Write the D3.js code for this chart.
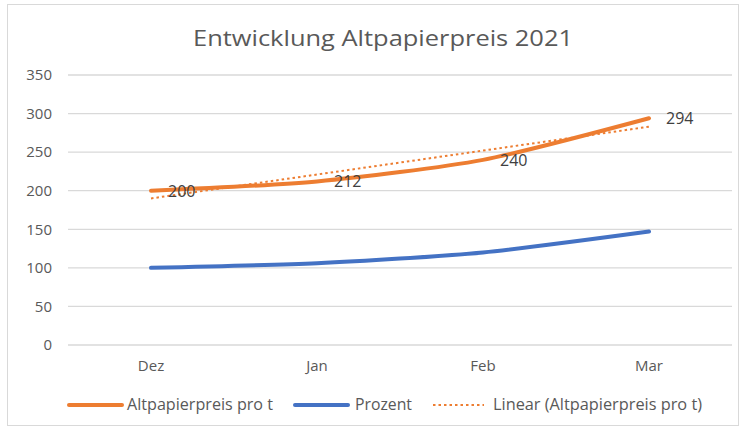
<!DOCTYPE html>
<html>
<head>
<meta charset="utf-8">
<script src="https://cdn.jsdelivr.net/npm/d3@7"></script>
<style>
  body { margin: 0; background: #fff; }
  text { font-family: "Open Sans", "Noto Sans", sans-serif; fill: #595959; }
</style>
</head>
<body>
<div id="chart"></div>
<script>
// data
var months = ["Dez", "Jan", "Feb", "Mar"];
var preis = [200, 212, 240, 294];
var prozent = [100, 106, 120, 147];
var trend = [190, 221, 252, 283];
var yTicks = [0, 50, 100, 150, 200, 250, 300, 350];

var W = 742, H = 428;
var margin = {top: 75, left: 68},
    width = 732 - margin.left,
    height = 345 - margin.top;

var svg = d3.select("#chart")
  .append("svg")
    .attr("width", W)
    .attr("height", H);

// chart frame
svg.append("rect")
  .attr("x", 7.5).attr("y", 4.5)
  .attr("width", 731).attr("height", 421)
  .attr("fill", "#fff")
  .attr("stroke", "#D9D9D9");

svg.append("text")
  .attr("x", 193).attr("y", 46)
  .attr("textLength", 380)
  .attr("lengthAdjust", "spacingAndGlyphs")
  .style("font-size", "22px")
  .text("Entwicklung Altpapierpreis 2021");

var g = svg.append("g")
  .attr("transform", "translate(" + margin.left + "," + margin.top + ")");

var x = d3.scaleBand().domain(months).range([0, width]);
var y = d3.scaleLinear().domain([0, 350]).range([height, 0]);
var cx = function(i) { return x(months[i]) + x.bandwidth() / 2; };

// gridlines
g.selectAll(".grid")
  .data(yTicks)
  .enter().append("line")
    .attr("x1", 0).attr("x2", width)
    .attr("y1", function(d) { return y(d); })
    .attr("y2", function(d) { return y(d); })
    .attr("stroke", "#D9D9D9")
    .attr("stroke-width", 1.3);

// y axis labels
var yAxis = g.append("g")
  .call(d3.axisLeft(y).tickValues(yTicks).tickSize(0).tickPadding(16));
yAxis.select(".domain").remove();
yAxis.selectAll("text").style("font-size", "15px").style("fill", "#595959").style("font-family", "Open Sans");

// x axis labels
var xAxis = g.append("g")
  .attr("transform", "translate(0," + height + ")")
  .call(d3.axisBottom(x).tickSize(0).tickPadding(15));
xAxis.select(".domain").remove();
xAxis.selectAll("text").style("font-size", "15px").style("fill", "#595959").style("font-family", "Open Sans");

var line = d3.line()
  .x(function(d, i) { return cx(i); })
  .y(function(d) { return y(d); })
  .curve(d3.curveCardinal.tension(0.3));

g.append("path")
  .datum(prozent)
  .attr("d", line)
  .attr("fill", "none")
  .attr("stroke", "#4472C4")
  .attr("stroke-width", 4)
  .attr("stroke-linecap", "round");

g.append("path")
  .datum(preis)
  .attr("d", line)
  .attr("fill", "none")
  .attr("stroke", "#ED7D31")
  .attr("stroke-width", 4)
  .attr("stroke-linecap", "round");

g.append("path")
  .datum(trend)
  .attr("d", d3.line().x(function(d, i) { return cx(i); }).y(function(d) { return y(d); }))
  .attr("fill", "none")
  .attr("stroke", "#ED7D31")
  .attr("stroke-width", 2)
  .attr("stroke-dasharray", "2.5,3");

// data labels
g.selectAll(".lbl")
  .data(preis)
  .enter().append("text")
    .attr("x", function(d, i) { return cx(i) + 17; })
    .attr("y", function(d) { return y(d) + 6; })
    .style("font-size", "16px")
    .style("fill", "#404040")
    .text(function(d) { return d; });

// legend
var legend = [
  {name: "Altpapierpreis pro t", color: "#ED7D31", w: 4, dash: null, x: 67, tx: 60, tw: 146},
  {name: "Prozent", color: "#4472C4", w: 4, dash: null, x: 293, tx: 62, tw: 57},
  {name: "Linear (Altpapierpreis pro t)", color: "#ED7D31", w: 2, dash: "2.5,3", x: 433, tx: 60, tw: 209}
];
var lg = svg.selectAll(".leg").data(legend).enter().append("g")
  .attr("transform", function(d) { return "translate(" + d.x + ",405)"; });
lg.append("line")
  .attr("x1", function(d) { return d.dash ? 0 : 2; })
  .attr("x2", function(d) { return d.dash ? 51 : 55; })
  .attr("stroke", function(d) { return d.color; })
  .attr("stroke-width", function(d) { return d.w; })
  .attr("stroke-dasharray", function(d) { return d.dash; })
  .attr("stroke-linecap", function(d) { return d.dash ? "butt" : "round"; });
lg.append("text")
  .attr("x", function(d) { return d.tx; })
  .attr("y", 5)
  .attr("textLength", function(d) { return d.tw; })
  .attr("lengthAdjust", "spacingAndGlyphs")
  .style("font-size", "16px")
  .text(function(d) { return d.name; });
</script>
</body>
</html>
